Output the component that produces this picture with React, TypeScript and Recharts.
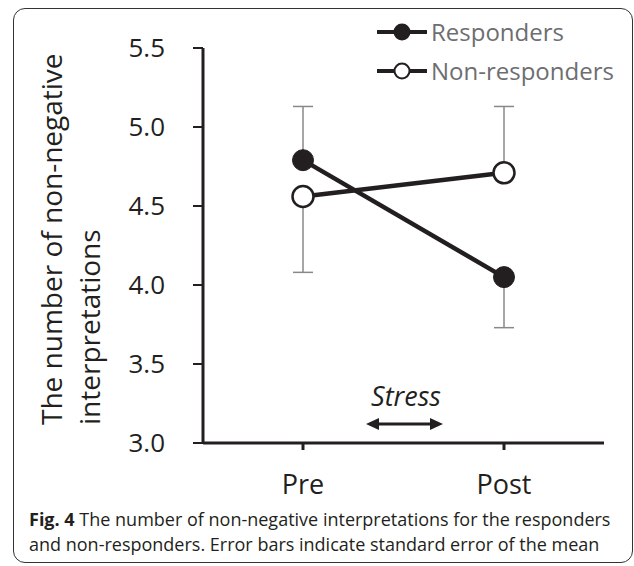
import { LineChart, Line, XAxis, YAxis, ErrorBar, Legend } from "recharts";

const phases = ["Pre", "Post"];
const responders = [4.79, 4.05];
const nonResponders = [4.56, 4.71];
// [below, above] standard error, drawn away from the other group
const respondersErr = [[0, 0.34], [0.32, 0]];
const nonRespondersErr = [[0.48, 0], [0, 0.42]];
const yTicks = [3.0, 3.5, 4.0, 4.5, 5.0, 5.5];
const seriesNames = ["Responders", "Non-responders"];

const data = phases.map((phase, i) => ({
  phase,
  responders: responders[i],
  nonResponders: nonResponders[i],
  respondersErr: respondersErr[i],
  nonRespondersErr: nonRespondersErr[i],
}));

const INK = "#231f20";
const FONT = "'Open Sans', sans-serif";

function LegendBox() {
  return (
    <div style={{ fontFamily: FONT }}>
      {seriesNames.map((name, i) => (
        <div key={name} style={{ display: "flex", alignItems: "center", height: 39 }}>
          <svg width={52} height={20}>
            <line x1={0} y1={10} x2={50} y2={10} stroke={INK} strokeWidth={4} />
            <circle cx={25} cy={10} r={7.5} fill={i === 0 ? INK : "#fff"} stroke={INK} strokeWidth={2} />
          </svg>
          <span style={{ fontSize: 24, color: "#6d6e71", marginLeft: 2, lineHeight: "24px" }}>{name}</span>
        </div>
      ))}
    </div>
  );
}

function YLabel() {
  return (
    <g fontFamily={FONT} fontSize={28} fill={INK}>
      <text x={62} y={425} transform="rotate(-90 62 425)" textAnchor="start">
        The number of non-negative
      </text>
      <text x={100} y={425} transform="rotate(-90 100 425)" textAnchor="start">
        interpretations
      </text>
    </g>
  );
}

export default function App() {
  return (
    <div
      style={{
        position: "absolute",
        left: 0,
        top: 0,
        width: 634,
        height: 566,
        background: "#fff",
        fontFamily: FONT,
        overflow: "hidden",
      }}
    >
      <div
        style={{
          position: "absolute",
          left: 13,
          top: 8,
          width: 620,
          height: 555,
          border: "1.5px solid #333",
          borderRadius: 12,
          boxSizing: "border-box",
        }}
      />
      <div style={{ position: "absolute", left: 0, top: 0 }}>
        <LineChart width={634} height={505} data={data} margin={{ top: 48, right: 30, bottom: 0, left: 0 }}>
          <XAxis
            dataKey="phase"
            height={62}
            padding={{ left: 100, right: 100 }}
            axisLine={{ stroke: INK, strokeWidth: 3 }}
            tickLine={{ stroke: INK, strokeWidth: 3 }}
            tickSize={7}
            tickMargin={25}
            tick={{ fill: INK, fontSize: 27, fontFamily: FONT }}
          />
          <YAxis
            width={203}
            domain={[3, 5.5]}
            ticks={yTicks}
            interval={0}
            tickFormatter={(v: number) => v.toFixed(1)}
            axisLine={{ stroke: INK, strokeWidth: 3 }}
            tickLine={{ stroke: INK, strokeWidth: 2 }}
            tickSize={10}
            tickMargin={28}
            tick={{ fill: INK, fontSize: 26, fontFamily: FONT }}
            label={{ content: () => <YLabel /> }}
          />
          <Legend
            layout="vertical"
            align="center"
            verticalAlign="middle"
            wrapperStyle={{ top: 12, left: 377, width: 250 }}
            content={() => <LegendBox />}
          />
          <Line
            dataKey="responders"
            stroke={INK}
            strokeWidth={4.5}
            dot={{ r: 10.5, fill: INK, stroke: INK, strokeWidth: 1 }}
            isAnimationActive={false}
          >
            <ErrorBar dataKey="respondersErr" direction="y" width={10} stroke="#888" strokeWidth={1.5} />
          </Line>
          <Line
            dataKey="nonResponders"
            stroke={INK}
            strokeWidth={4.5}
            dot={{ r: 10.5, fill: "#fff", stroke: INK, strokeWidth: 2.5 }}
            isAnimationActive={false}
          >
            <ErrorBar dataKey="nonRespondersErr" direction="y" width={10} stroke="#888" strokeWidth={1.5} />
          </Line>
        </LineChart>
      </div>
      <svg style={{ position: "absolute", left: 0, top: 0 }} width={634} height={500}>
        <text x={406} y={406} textAnchor="middle" fontFamily={FONT} fontStyle="italic" fontSize={27} fill={INK}>
          Stress
        </text>
        <line x1={376} y1={424} x2={433} y2={424} stroke={INK} strokeWidth={3} />
        <polygon points="366,424 379,418 379,430" fill={INK} />
        <polygon points="443,424 430,418 430,430" fill={INK} />
      </svg>
      <div
        style={{
          position: "absolute",
          left: 29,
          top: 507,
          fontSize: 18,
          lineHeight: "25px",
          color: INK,
          whiteSpace: "nowrap",
        }}
      >
        <div>
          <b>Fig. 4</b> The number of non-negative interpretations for the responders
        </div>
        <div>and non-responders. Error bars indicate standard error of the mean</div>
      </div>
    </div>
  );
}
